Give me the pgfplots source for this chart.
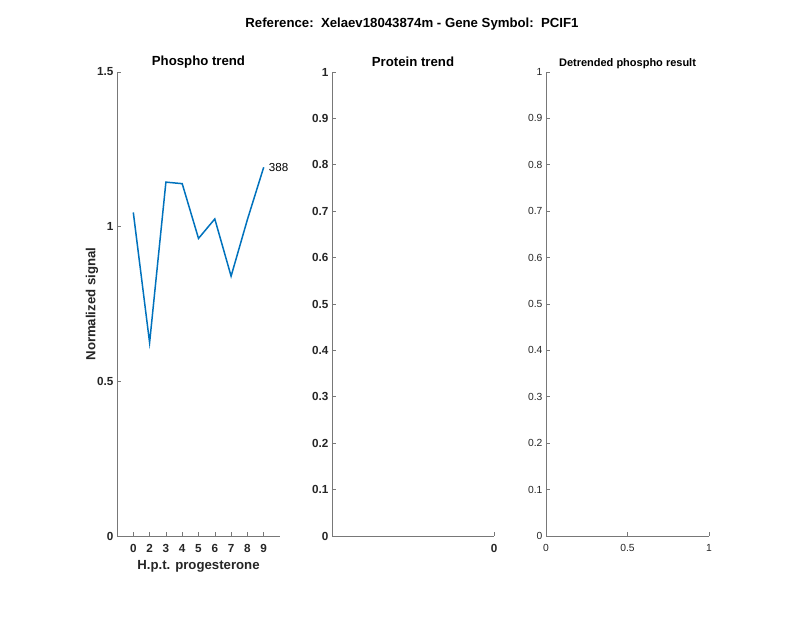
\documentclass[border=0pt]{standalone}
\usepackage{pgfplots}
\pgfplotsset{compat=1.18}
\usepackage{fontspec}
\setmainfont{Liberation Sans}
\definecolor{mblue}{RGB}{0,114,189}
\definecolor{axgray}{RGB}{120,120,120}
\definecolor{txt}{RGB}{38,38,38}
\pgfplotsset{
  mybase/.style={
    scale only axis,
    anchor=south west,
    height=464pt,
    axis lines*=left,
    axis line style={-,draw=axgray,line width=0.6pt},
    tick style={draw=axgray,line width=0.6pt},
    tick align=inside,
    major tick length=4pt,
    /pgf/number format/assume math mode=true,
    xticklabel style={yshift=-5pt},
    ymin=0,
    clip=false,
  }
}
\begin{document}
\begin{tikzpicture}[x=1pt,y=1pt]
\fill[white] (0,0) rectangle (800,618);
% main title
\node[font=\bfseries\fontsize{13.2}{15}\selectfont,text=black] at (412,594) {Reference:\ \ Xelaev18043874m - Gene Symbol:\ \ PCIF1};

% Axis 1
\begin{axis}[mybase,
  at={(117pt,82pt)}, width=163pt,
  xmin=0, xmax=10, ymax=1.5,
  xtick={1,2,3,4,5,6,7,8,9},
  xticklabels={0,2,3,4,5,6,7,8,9},
  ytick={0,0.5,1,1.5},
  yticklabels={0,0.5,1,1.5},
  tick label style={font=\bfseries\fontsize{11.7}{13}\selectfont,text=txt},
]
\addplot[color=mblue,line width=1.5pt] coordinates {
 (1,1.046) (2,0.625) (3,1.144) (4,1.139) (5,0.962) (6,1.025) (7,0.840) (8,1.023) (9,1.192)
};
\node[anchor=west,font=\fontsize{11.6}{13}\selectfont,text=black,inner sep=0pt,xshift=5pt] at (axis cs:9,1.192) {388};
\end{axis}
\node[font=\bfseries\fontsize{13.2}{15}\selectfont,text=black] at (198.5,556) {Phospho trend};
\node[font=\bfseries\fontsize{13.2}{15}\selectfont,text=txt] at (198.5,52) {H.p.t. progesterone};
\node[font=\bfseries\fontsize{13.2}{15}\selectfont,text=txt,rotate=90] at (92,314) {Normalized signal};

% Axis 2
\begin{axis}[mybase,
  at={(332pt,82pt)}, width=162pt,
  xmin=-1, xmax=0, ymax=1,
  xtick={0}, xticklabels={0},
  ytick={0,0.1,0.2,0.3,0.4,0.5,0.6,0.7,0.8,0.9,1},
  yticklabels={0,0.1,0.2,0.3,0.4,0.5,0.6,0.7,0.8,0.9,1},
  tick label style={font=\bfseries\fontsize{11.7}{13}\selectfont,text=txt},
]
\addplot[draw=none] coordinates {(-1,0)};
\end{axis}
\node[font=\bfseries\fontsize{13.2}{15}\selectfont,text=black] at (413,556) {Protein trend};

% Axis 3
\begin{axis}[mybase,
  at={(546pt,82pt)}, width=163pt,
  xmin=0, xmax=1, ymax=1,
  xtick={0,0.5,1}, xticklabels={0,0.5,1},
  ytick={0,0.1,0.2,0.3,0.4,0.5,0.6,0.7,0.8,0.9,1},
  yticklabels={0,0.1,0.2,0.3,0.4,0.5,0.6,0.7,0.8,0.9,1},
  tick label style={font=\fontsize{10.3}{12}\selectfont,text=txt},
]
\addplot[draw=none] coordinates {(0,0)};
\end{axis}
\node[font=\bfseries\fontsize{11}{13}\selectfont,text=black] at (627.5,554) {Detrended phospho result};
\end{tikzpicture}
\end{document}
